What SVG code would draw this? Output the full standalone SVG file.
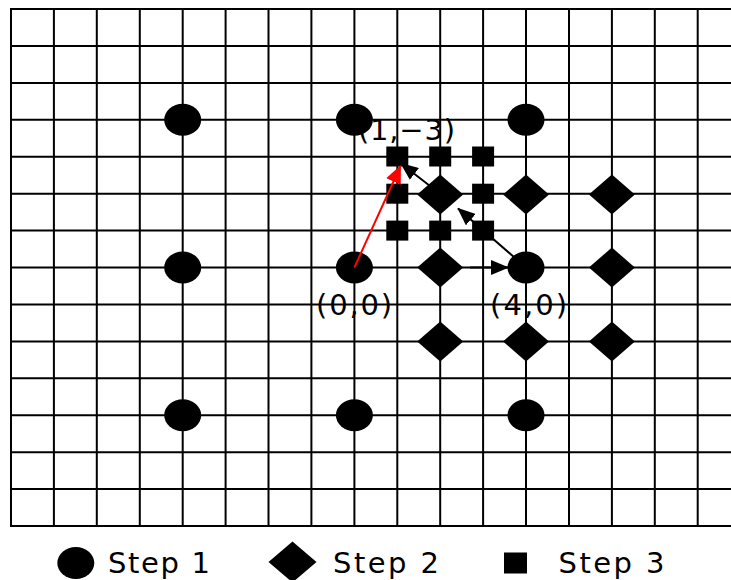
<svg xmlns="http://www.w3.org/2000/svg" width="731" height="580" viewBox="0 0 731 580">
<style>
.grid{stroke:#000;stroke-width:2;fill:none}
.s1,.s2,.s3{fill:#000}
.lbl{font-family:"DejaVu Sans","Liberation Sans",sans-serif;font-size:29px;fill:#000}
.leg{font-family:"DejaVu Sans","Liberation Sans",sans-serif;font-size:29px;fill:#000}
.arr{stroke:#000;stroke-width:2;fill:none}
.arrR{stroke:#f00;stroke-width:2;fill:none}
</style>
<defs>
<marker id="mb" viewBox="0 0 18 15" refX="17" refY="7.5" markerWidth="18" markerHeight="15" markerUnits="userSpaceOnUse" orient="auto">
<path d="M0,0 L18,7.5 L0,15 z" fill="#000"/>
</marker>
<marker id="mr" viewBox="0 0 18 16" refX="17" refY="8" markerWidth="18" markerHeight="16" markerUnits="userSpaceOnUse" orient="auto">
<path d="M0,0 L18,8 L0,16 z" fill="#f00"/>
</marker>
<ellipse id="circ" cx="0" cy="0" rx="18.5" ry="16"/>
<path id="dia" d="M0,-20 L23,0 L0,20 L-23,0 z"/>
<rect id="sq" x="-11" y="-10" width="22" height="20"/>
</defs>
<rect width="731" height="580" fill="#fff"/>
<g id="grid" class="grid">
<path d="M11,9V526 M53.9,9V526 M96.8,9V526 M139.8,9V526 M182.7,9V526 M225.6,9V526 M268.5,9V526 M311.4,9V526 M354.4,9V526 M397.3,9V526 M440.2,9V526 M483.1,9V526 M526,9V526 M569,9V526 M611.9,9V526 M654.8,9V526 M697.7,9V526"/>
<path d="M10,9H731 M10,45.9H731 M10,82.9H731 M10,119.8H731 M10,156.7H731 M10,193.7H731 M10,230.6H731 M10,267.5H731 M10,304.4H731 M10,341.4H731 M10,378.3H731 M10,415.2H731 M10,452.2H731 M10,489.1H731 M10,526H731"/>
</g>
<g id="step1" class="s1">
<use href="#circ" x="182.7" y="119.8"/><use href="#circ" x="354.4" y="119.8"/><use href="#circ" x="526" y="119.8"/>
<use href="#circ" x="182.7" y="267.5"/><use href="#circ" x="354.4" y="267.5"/><use href="#circ" x="526" y="267.5"/>
<use href="#circ" x="182.7" y="415.2"/><use href="#circ" x="354.4" y="415.2"/><use href="#circ" x="526" y="415.2"/>
</g>
<g id="step2" class="s2">
<use href="#dia" x="440.2" y="194.5"/><use href="#dia" x="526" y="194.5"/><use href="#dia" x="611.9" y="194.5"/>
<use href="#dia" x="440.2" y="267.5"/><use href="#dia" x="611.9" y="267.5"/>
<use href="#dia" x="440.2" y="341.4"/><use href="#dia" x="526" y="341.4"/><use href="#dia" x="611.9" y="341.4"/>
</g>
<g id="connectors">
<line class="arr" x1="526" y1="267.5" x2="458" y2="208.5" marker-end="url(#mb)"/>
<line class="arr" x1="440" y1="193.7" x2="401" y2="163.5" marker-end="url(#mb)"/>
<line class="arr" x1="470" y1="267.5" x2="508" y2="267.5" marker-end="url(#mb)"/>
</g>
<g id="step3" class="s3">
<use href="#sq" x="397.3" y="156.5"/><use href="#sq" x="440.2" y="156.5"/><use href="#sq" x="483.1" y="156.5"/>
<use href="#sq" x="397.3" y="193.7"/><use href="#sq" x="483.1" y="193.7"/>
<use href="#sq" x="397.3" y="230.6"/><use href="#sq" x="440.2" y="230.6"/><use href="#sq" x="483.1" y="230.6"/>
</g>
<g id="redArrow">
<line class="arrR" x1="354.4" y1="267.5" x2="400.5" y2="166" marker-end="url(#mr)"/>
</g>
<g id="labels">
<text class="lbl" x="358" y="140" textLength="97" lengthAdjust="spacing">(1,−3)</text>
<text class="lbl" x="316" y="315" textLength="76" lengthAdjust="spacing">(0,0)</text>
<text class="lbl" x="490" y="315" textLength="77" lengthAdjust="spacing">(4,0)</text>
</g>
<g id="legend">
<use href="#circ" x="75.8" y="563" class="s1"/>
<text class="leg" x="108" y="573" textLength="102" lengthAdjust="spacing">Step 1</text>
<path d="M292.5,541.5 L316.5,562 L292.5,582.5 L268.5,562 z" class="s2"/>
<text class="leg" x="333" y="573" textLength="106" lengthAdjust="spacing">Step 2</text>
<rect x="504" y="552.5" width="23" height="21" class="s3"/>
<text class="leg" x="558.5" y="573" textLength="106" lengthAdjust="spacing">Step 3</text>
</g>
</svg>
